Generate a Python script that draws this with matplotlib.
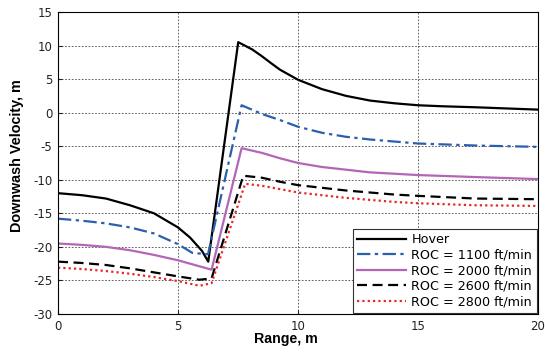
import numpy as np
import matplotlib
matplotlib.use("Agg")
from matplotlib import pyplot as plt

plt.rcParams['font.family'] = ['DejaVu Sans']
plt.rcParams['axes.unicode_minus'] = False

# hover
x_hover = [0, 1, 2, 3, 4, 5, 5.5, 6, 6.26, 7.51, 8.1, 8.5, 8.83, 9.25, 10, 11, 12, 13, 14, 15, 16, 17.4, 18.5, 20]
y_hover = [-12.0, -12.3, -12.8, -13.8, -15.0, -17.1, -18.6, -20.6, -22.2, 10.5, 9.4, 8.4, 7.5, 6.4, 4.9,
           3.5, 2.5, 1.8, 1.4, 1.1, 0.95, 0.8, 0.65, 0.45]

# ROC = 1100 ft/min
x_1100 = [0, 1, 2, 3, 4, 5, 5.6, 6.25, 7.65, 8.5, 9.25, 10, 11, 12, 13, 14, 15, 17.4, 20]
y_1100 = [-15.8, -16.1, -16.5, -17.1, -18.0, -19.6, -20.9, -21.1, 1.1, -0.2, -1.1, -2.1,
          -3.0, -3.6, -4.0, -4.3, -4.6, -4.9, -5.1]

# ROC = 2000 ft/min
x_2000 = [0, 1, 2, 3, 4, 5, 6, 6.4, 7.65, 8.5, 9.25, 10, 11, 12, 13, 14, 15, 17.4, 20]
y_2000 = [-19.5, -19.7, -20.0, -20.5, -21.2, -22.0, -23.0, -23.4, -5.3, -6.0, -6.8, -7.5,
          -8.1, -8.5, -8.9, -9.1, -9.3, -9.6, -9.9]

# ROC = 2600 ft/min
x_2600 = [0, 1, 2, 3, 4, 5, 5.9, 6.4, 7.72, 8.5, 9.25, 10, 11, 12, 13, 14, 15, 17.4, 20]
y_2600 = [-22.2, -22.4, -22.7, -23.2, -23.8, -24.4, -24.9, -24.7, -9.4, -9.7, -10.3, -10.8,
          -11.2, -11.6, -11.9, -12.2, -12.4, -12.8, -12.9]

# ROC = 2800 ft/min
x_2800 = [0, 1, 2, 3, 4, 5, 5.9, 6.4, 7.8, 8.5, 9.25, 10, 11, 12, 13, 14, 15, 17.4, 20]
y_2800 = [-23.1, -23.3, -23.6, -24.0, -24.5, -25.1, -25.8, -25.4, -10.6, -10.9, -11.4, -11.9,
          -12.3, -12.7, -13.0, -13.3, -13.5, -13.8, -13.9]

fig = plt.figure(figsize=(5.45, 3.52), dpi=100)
ax = fig.add_axes([0.1064, 0.108, 0.8807, 0.858])

ax.plot(x_hover, y_hover, color='black', lw=1.6, label='Hover')
ax.plot(x_1100, y_1100, color='#2b5fae', lw=1.6, ls=(0, (6, 2, 1.5, 2)), label='ROC = 1100 ft/min')
ax.plot(x_2000, y_2000, color='#b366b8', lw=1.6, label='ROC = 2000 ft/min')
ax.plot(x_2600, y_2600, color='black', lw=1.6, ls=(0, (4.5, 2.5)), label='ROC = 2600 ft/min')
ax.plot(x_2800, y_2800, color='#e8262b', lw=1.6, ls=(0, (1, 1.4)), label='ROC = 2800 ft/min')

ax.set_xlim(0, 20)
ax.set_ylim(-30, 15)
ax.set_xticks(np.arange(0, 21, 5))
ax.set_yticks(np.arange(-30, 16, 5))
ax.grid(True, color='#444444', ls=(0, (2, 2)), lw=0.6)
ax.tick_params(direction='in', length=3, labelsize=8.5, colors='#222222', pad=4)
for s in ax.spines.values():
    s.set_linewidth(0.8)

ax.set_xlabel('Range, m', fontsize=10.2, fontweight='bold', family='Liberation Sans', labelpad=1)
ax.set_ylabel('Downwash Velocity, m', fontsize=10.4, fontweight='bold', family='Liberation Sans', labelpad=3)
ax.xaxis.set_label_coords(0.475, -0.06)
ax.yaxis.set_label_coords(-0.071, 0.523)

leg = ax.legend(loc='lower right', fontsize=9.2, handlelength=3.8, handletextpad=0.45,
                borderaxespad=0.1, fancybox=False, edgecolor='#333333', framealpha=1,
                labelspacing=0.2, borderpad=0.35)
leg.get_frame().set_linewidth(0.8)

plt.savefig('out.png', dpi=100)
